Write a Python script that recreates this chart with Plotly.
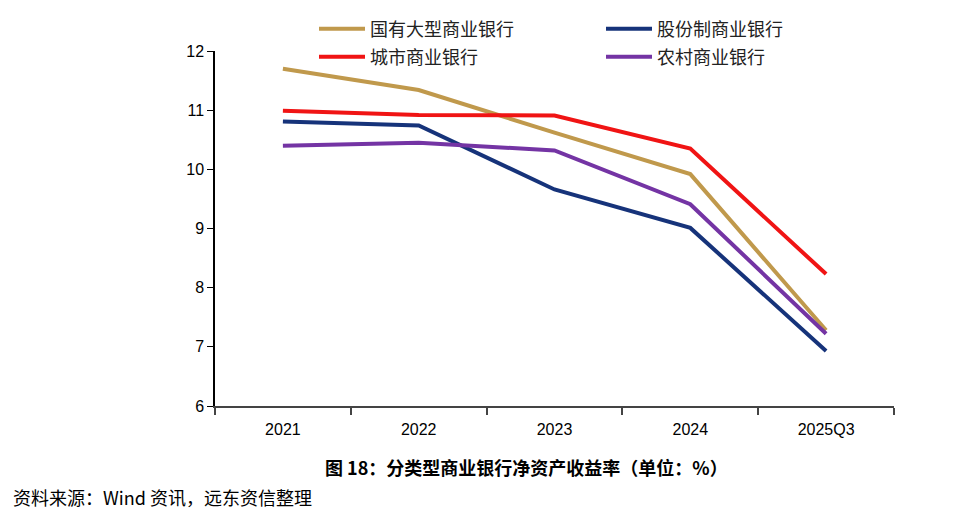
import plotly.graph_objects as go

categories = ["2021", "2022", "2023", "2024", "2025Q3"]
series_names = ["国有大型商业银行", "股份制商业银行", "城市商业银行", "农村商业银行"]
state_owned = [11.70, 11.34, 10.62, 9.92, 7.28]
joint_stock = [10.81, 10.74, 9.66, 9.01, 6.93]
city = [10.99, 10.92, 10.91, 10.35, 8.23]
rural = [10.40, 10.45, 10.32, 9.41, 7.22]
colors = ["#C0994C", "#16337A", "#F01414", "#7434A4"]
y_ticks = [6, 7, 8, 9, 10, 11, 12]
title_text = "图 18：分类型商业银行净资产收益率（单位：%）"
source_text = "资料来源：Wind 资讯，远东资信整理"

W, H = 966, 517
OFF = 8  # page body margin
# desired on-screen plot box
SX0, SX1, SY0, SY1 = 215, 894, 51, 406
L, T = SX0 - OFF, SY0 - OFF
PW, PH = SX1 - SX0, SY1 - SY0
R, B = W - L - PW, H - T - PH


def px_x(sx):
    return (sx - OFF - L) / PW


def px_y(sy):
    return (H - B - (sy - OFF)) / PH


# legend entry positions (screen pixels: left of entry, centre y)
legend_pos = [(314, 29), (601, 29), (314, 57), (601, 57)]
legend_ids = ["legend", "legend2", "legend3", "legend4"]

fig = go.Figure()
for name, vals, col, lid in zip(series_names, [state_owned, joint_stock, city, rural], colors, legend_ids):
    fig.add_trace(go.Scatter(x=categories, y=vals, name=name, mode="lines",
                             line=dict(color=col, width=4), legend=lid))

legend_layout = {}
for lid, (sx, sy) in zip(legend_ids, legend_pos):
    legend_layout[lid] = dict(
        x=px_x(sx), xanchor="left",
        y=px_y(sy), yanchor="middle",
        font=dict(family="Noto Sans CJK SC", size=18, color="#222222"),
        bgcolor="rgba(0,0,0,0)", borderwidth=0, itemwidth=46,
    )

fig.update_layout(
    width=W, height=H,
    margin=dict(l=L, r=R, t=T, b=B, autoexpand=False),
    paper_bgcolor="white", plot_bgcolor="white",
    font=dict(family="Liberation Sans, Arial, sans-serif", color="#000000"),
    showlegend=True,
    xaxis=dict(type="category", showline=True, linecolor="#444444", linewidth=2,
               ticks="outside", tickson="boundaries", ticklen=7, tickcolor="#444444",
               tickwidth=1.5, showgrid=False, zeroline=False, ticklabelstandoff=8,
               tickfont=dict(size=16, family="Liberation Sans, Arial"),
               range=[-0.5, 4.5]),
    yaxis=dict(range=[6, 12], tickvals=y_ticks, showline=True, linecolor="#000000", linewidth=1.5,
               ticks="outside", ticklen=6, tickcolor="#000000", showgrid=False, zeroline=False,
               tickfont=dict(size=16, family="Liberation Sans, Arial")),
    **legend_layout,
)

fig.add_annotation(text="<b>" + title_text + "</b>", xref="paper", yref="paper",
                   x=px_x(526), y=px_y(467), xanchor="center", yanchor="middle",
                   showarrow=False, font=dict(family="Noto Sans CJK SC", size=18, color="#000000"))
fig.add_annotation(text=source_text, xref="paper", yref="paper",
                   x=px_x(11), y=px_y(497), xanchor="left", yanchor="middle",
                   showarrow=False, font=dict(family="Noto Sans CJK SC", size=18, color="#000000"))

fig.write_html("out.html")
